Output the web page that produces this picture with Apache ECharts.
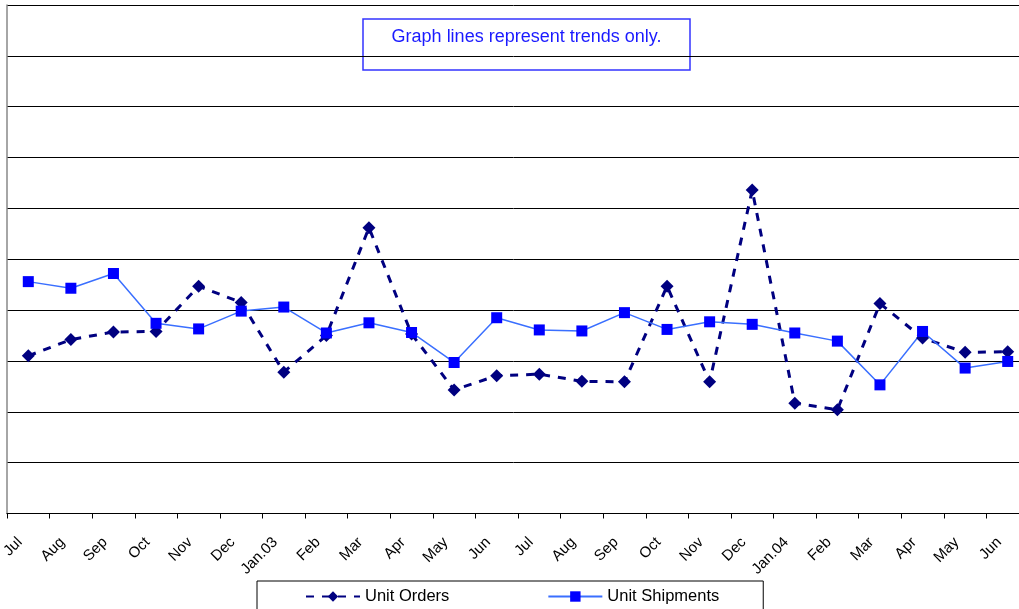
<!DOCTYPE html>
<html>
<head>
<meta charset="utf-8">
<script src="https://cdn.jsdelivr.net/npm/echarts@6/dist/echarts.min.js"></script>
<style>
  html, body { margin: 0; padding: 0; background: #fff; }
  #main { width: 1019px; height: 609px; }
</style>
</head>
<body>
<div id="main"></div>
<script>
var months = ['Jul', 'Aug', 'Sep', 'Oct', 'Nov', 'Dec', 'Jan.03', 'Feb', 'Mar', 'Apr', 'May', 'Jun',
  'Jul', 'Aug', 'Sep', 'Oct', 'Nov', 'Dec', 'Jan.04', 'Feb', 'Mar', 'Apr', 'May', 'Jun'];
var unitOrders = [31.0, 34.2, 35.7, 35.8, 44.7, 41.5, 27.8, 35.0, 56.2, 35.3, 24.3, 27.1,
  27.4, 26.0, 25.9, 44.7, 25.9, 63.6, 21.7, 20.4, 41.3, 34.5, 31.7, 31.8];
var unitShipments = [45.6, 44.3, 47.2, 37.4, 36.3, 39.8, 40.6, 35.5, 37.5, 35.6, 29.7, 38.5,
  36.1, 35.9, 39.5, 36.2, 37.7, 37.2, 35.5, 33.9, 25.3, 35.8, 28.6, 29.9];
var note = 'Graph lines represent trends only.';

var font = 'Liberation Sans, Arial, Helvetica, sans-serif';
var myChart = echarts.init(document.getElementById('main'));
myChart.setOption({
  animation: false,
  backgroundColor: '#fff',
  // plot runs past the right edge, like the cropped original
  grid: { left: 7, top: 5, width: 1022, height: 508.5, outerBoundsMode: 'none', containLabel: false },
  xAxis: {
    type: 'category',
    data: months,
    axisLine: { lineStyle: { color: '#000', width: 1 } },
    axisTick: { show: true, length: 5, lineStyle: { color: '#000' } },
    axisLabel: {
      interval: 0, rotate: 45, margin: 18, padding: [0, 12, 0, 0],
      fontSize: 15, color: '#000', fontFamily: font
    }
  },
  yAxis: {
    type: 'value',
    min: 0,
    max: 100,
    interval: 10,
    axisLine: { show: true, lineStyle: { color: '#888', width: 1.5 } },
    axisTick: { show: false },
    axisLabel: { show: false },
    splitLine: { lineStyle: { color: '#000', width: 1 } }
  },
  legend: {
    left: 257,
    top: 581,
    padding: [7, 44, 20, 48],
    itemGap: 98,
    itemWidth: 54,
    itemHeight: 13,
    borderColor: '#000',
    borderWidth: 1,
    backgroundColor: '#fff',
    textStyle: { fontSize: 16.5, color: '#000', fontFamily: font },
    data: ['Unit Orders', 'Unit Shipments']
  },
  graphic: [{
    type: 'group',
    z: 100,
    children: [{
      type: 'rect',
      shape: { x: 363, y: 19, width: 327, height: 51 },
      style: { fill: '#fff', stroke: '#3333ff', lineWidth: 1.5 }
    }, {
      type: 'text',
      x: 526.5,
      y: 37,
      style: {
        text: note,
        fill: '#1a1aff',
        font: '18px ' + font,
        align: 'center',
        verticalAlign: 'middle'
      }
    }]
  }],
  series: [{
    name: 'Unit Orders',
    type: 'line',
    data: unitOrders,
    symbol: 'diamond',
    symbolSize: 13,
    itemStyle: { color: '#000080' },
    lineStyle: { color: '#000080', width: 3, type: [8, 8] }
  }, {
    name: 'Unit Shipments',
    type: 'line',
    data: unitShipments,
    symbol: 'rect',
    symbolSize: 11,
    itemStyle: { color: '#0000ff' },
    lineStyle: { color: '#3a6fff', width: 1.5 }
  }]
});
</script>
</body>
</html>
